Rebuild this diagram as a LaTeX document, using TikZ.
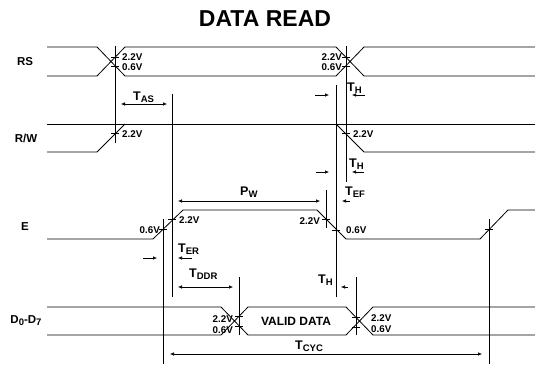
\documentclass[tikz,border=0pt]{standalone}
\usepackage{fontspec}
\setmainfont{Liberation Sans}
\usetikzlibrary{arrows.meta}
\newcommand{\sub}[1]{\raisebox{-2.5pt}{\fontsize{9.5}{10}\selectfont #1}}
\tikzset{
  >={Latex[length=4pt,width=3.6pt]},
        title/.style = { font=\bfseries\fontsize{23}{24}\selectfont, inner sep=0pt, anchor=base },
      signame/.style = { font=\bfseries\fontsize{11.5}{12}\selectfont, inner sep=0pt, anchor=base },
       signal/.style = { line width=0.8pt },
        guide/.style = { line width=0.8pt },
         tick/.style = { line width=0.6pt },
         volt/.style = { font=\bfseries\fontsize{9.8}{10}\selectfont, inner sep=0pt },
       timing/.style = { font=\bfseries\fontsize{12.5}{13}\selectfont, inner sep=0pt, anchor=base west },
      measure/.style = { line width=0.6pt }
}

\begin{document}
\begin{tikzpicture}[x=1pt, y=-1pt]
  \useasboundingbox (0,0) rectangle (535,364);

  % title and signal names
  \node[title] (title) at (265,26) {DATA READ};
  \node[signame] (rs) at (25,65) {RS};
  \node[signame] (rw) at (26,142) {R/W};
  \node[signame] (e) at (25,230) {E};
  \node[signame] (data) at (26,323) {D\sub{0}-D\sub{7}};

  % signals
  \draw[signal] (47,47) -- (97,47) -- (125,76) -- (336,76) -- (364,47) -- (535,47);
  \draw[signal] (47,76) -- (97,76) -- (125,47) -- (336,47) -- (364,76) -- (535,76);

  \draw[signal] (47,124) -- (535,124);
  \draw[signal] (47,152) -- (97,152) -- (125,124);
  \draw[signal] (336,124) -- (364,152) -- (535,152);

  \draw[signal] (47,239) -- (153,239) -- (183,210) -- (317,210) -- (346,239)
                -- (480,239) -- (508,210) -- (535,210);

  \draw[signal] (47,307) -- (221,307) -- (248,335) -- (346,335) -- (373,307) -- (535,307);
  \draw[signal] (47,335) -- (221,335) -- (248,307) -- (346,307) -- (373,335) -- (535,335);
  \node[font=\bfseries\fontsize{12}{13}\selectfont, inner sep=0pt, anchor=base] (valid) at (296,325) {VALID DATA};

  % guide lines
  \draw[guide] (115,46) -- (115,143);
  \draw[guide] (172,94) -- (172,297);
  \draw[guide] (163,219) -- (163,364);
  \draw[guide] (336,85) -- (336,297);
  \draw[guide] (346,46) -- (346,182);
  \draw[guide] (326,190) -- (326,228);
  \draw[guide] (239,277) -- (239,335);
  \draw[guide] (356,277) -- (356,335);
  \draw[guide] (489,219) -- (489,364);

  % ticks
  \foreach \x/\y in {115/57, 115/66, 346/57, 346/66, 115/133, 346/133,
                     163/229, 172/219, 326/219, 336/230, 489/229,
                     239/316, 239/326, 356/317, 356/327}
    \draw[tick] (\x-4,\y) -- (\x+4,\y);

  % voltage levels
  \node[volt, anchor=base west] (rsahi) at (122,60) {2.2V};
  \node[volt, anchor=base west] (rsalo) at (122,70.5) {0.6V};
  \node[volt, anchor=base east] (rsbhi) at (342,60) {2.2V};
  \node[volt, anchor=base east] (rsblo) at (342,70.5) {0.6V};
  \node[volt, anchor=base west] (rwahi) at (122,137) {2.2V};
  \node[volt, anchor=base west] (rwbhi) at (353,137) {2.2V};
  \node[volt, anchor=base east] (ealo) at (160,233) {0.6V};
  \node[volt, anchor=base west] (eahi) at (179,223) {2.2V};
  \node[volt, anchor=base east] (ebhi) at (320,224) {2.2V};
  \node[volt, anchor=base west] (eblo) at (346,233) {0.6V};
  \node[volt, anchor=base east] (dahi) at (233,322) {2.2V};
  \node[volt, anchor=base east] (dalo) at (233,333) {0.6V};
  \node[volt, anchor=base west] (dbhi) at (371,321) {2.2V};
  \node[volt, anchor=base west] (dblo) at (371,332) {0.6V};

  % timings
  \node[timing] (tas) at (133,100) {T\sub{AS}};
  \draw[measure, <->] (121,104) -- (167,104);

  \node[timing] (th1) at (347,91) {T\sub{H}};
  \draw[measure, ->] (315,95) -- (329,95);
  \draw[measure, ->] (365,95) -- (352,95);

  \node[timing] (th2) at (349,167) {T\sub{H}};
  \draw[measure, ->] (316,172) -- (329,172);
  \draw[measure, ->] (364,172) -- (352,172);

  \node[timing] (pw) at (240,195) {P\sub{W}};
  \draw[measure, <->] (178,201) -- (320,201);

  \node[timing] (tef) at (345,195) {T\sub{EF}};
  \draw[measure, ->] (350,201) -- (342,201);

  \node[timing] (ter) at (178,252) {T\sub{ER}};
  \draw[measure, ->] (143,258) -- (157,258);
  \draw[measure, ->] (192,258) -- (178,258);

  \node[timing] (tddr) at (189,277) {T\sub{DDR}};
  \draw[measure, <->] (178,287) -- (233,287);

  \node[timing] (th3) at (318,283) {T\sub{H}};
  \draw[measure, ->] (348,287) -- (341,287);

  \node[timing] (tcyc) at (295,349) {T\sub{CYC}};
  \draw[measure, <->] (170,354) -- (482,354);
\end{tikzpicture}
\end{document}
